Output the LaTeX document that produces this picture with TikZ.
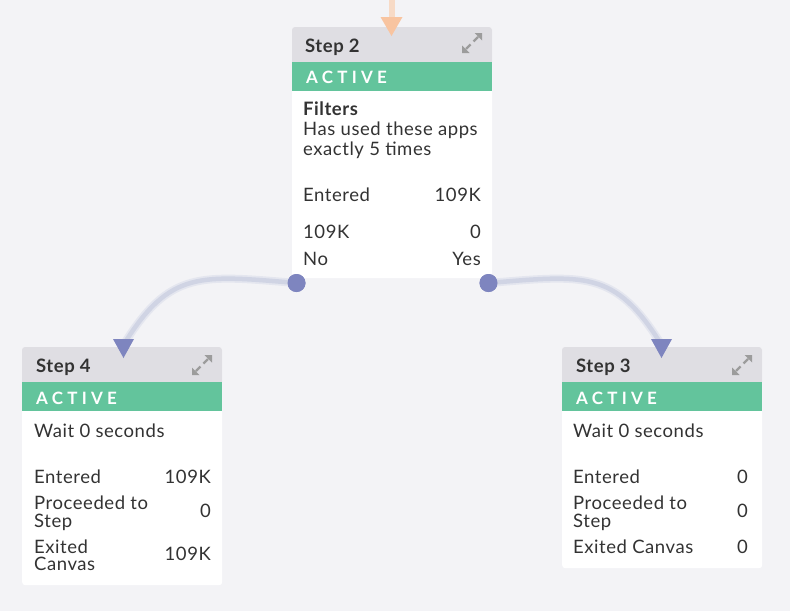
\documentclass[tikz,border=0pt]{standalone}
\usepackage{fontspec}
\setmainfont[LetterSpace=3]{Lato}
\newfontfamily\actfont[LetterSpace=25]{Lato}
\definecolor{bgc}{HTML}{F3F3F6}
\definecolor{hdrc}{HTML}{DFDEE3}
\definecolor{grnc}{HTML}{63C49C}
\definecolor{txtc}{HTML}{333333}
\definecolor{iconc}{HTML}{9C9C9C}
\definecolor{linec}{HTML}{D0D4E4}
\definecolor{haloc}{HTML}{E4E6EF}
\definecolor{dotc}{HTML}{7E85BF}
\definecolor{orline}{HTML}{F7DAC6}
\definecolor{orhead}{HTML}{F8C4A0}
\begin{document}
\begin{tikzpicture}[x=1pt,y=-1pt,
  cardbody/.style={anchor=north west, minimum width=200pt, inner sep=0pt, fill=white, rounded corners=3pt},
  hdr/.style={fill=hdrc},
  grn/.style={fill=grnc},
  ttl/.style={anchor=base west, inner sep=0pt, text=txtc, font=\fontsize{18.5}{20}\selectfont\bfseries},
  act/.style={anchor=base west, inner sep=0pt, text=white, font=\fontsize{17}{20}\selectfont\actfont\bfseries},
  txt/.style={anchor=base west, inner sep=0pt, text=txtc, font=\fontsize{18.5}{20}\selectfont},
  val/.style={anchor=base east, inner sep=0pt, text=txtc, font=\fontsize{18.5}{20}\selectfont},
  dotn/.style={circle, fill=dotc, minimum size=18pt, inner sep=0pt},
  halo/.style={draw=haloc, line width=8pt},
  conn/.style={draw=linec, line width=4.5pt},
  bhead/.style={fill=dotc},
  expandicon/.pic={
    \draw[iconc, line width=2.2pt] (-1.5,1.5) -- (-6,6);
    \draw[iconc, line width=2.2pt] (1.5,-1.5) -- (6,-6);
    \fill[iconc] (-10,10) -- (-2.5,10) -- (-10,2.5) -- cycle;
    \fill[iconc] (10,-10) -- (2.5,-10) -- (10,-2.5) -- cycle;
  }
]
\fill[bgc] (0,0) rectangle (790,611);
\useasboundingbox (0,0) rectangle (790,611);

% ---------- Step 2 ----------
\begin{scope}[shift={(292,27)}]
\node[cardbody, minimum height=251pt] (s2) at (0,0) {};
\fill[hdr] (0,35) {[rounded corners=3pt] -- (0,0) -- (200,0)} -- (200,35) -- cycle;
\fill[grn] (0,35) rectangle (200,64);
\node[ttl] (s2t) at (13,25) {Step 2};
\pic at (180,16) {expandicon};
\node[act] (s2a) at (14,56) {ACTIVE};
\node[txt] (s2f) at (11,88) {\bfseries Filters};
\node[txt] (s2l1) at (11,108) {Has used these apps};
\node[txt] (s2l2) at (11,128) {exactly 5 times};
\node[txt] (s2e) at (11,174) {Entered};
\node[val] (s2ev) at (189,174) {109K};
\node[txt] (s2n) at (11,211) {109K};
\node[val] (s2nv) at (189,211) {0};
\node[txt] (s2no) at (11,238) {No};
\node[val] (s2yes) at (189,238) {Yes};
\end{scope}

% ---------- Step 4 ----------
\begin{scope}[shift={(22,347)}]
\node[cardbody, minimum height=238pt] (s4) at (0,0) {};
\fill[hdr] (0,35) {[rounded corners=3pt] -- (0,0) -- (200,0)} -- (200,35) -- cycle;
\fill[grn] (0,35) rectangle (200,64);
\node[ttl] (s4t) at (14,25) {Step 4};
\pic at (180,18) {expandicon};
\node[act] (s4a) at (14,57) {ACTIVE};
\node[txt] (s4w) at (12,90) {Wait 0 seconds};
\node[txt] (s4e) at (12,136) {Entered};
\node[val] (s4ev) at (189,136) {109K};
\node[txt] (s4p1) at (12,162) {Proceeded to};
\node[txt] (s4p2) at (12,180) {Step};
\node[val] (s4pv) at (189,170) {0};
\node[txt] (s4x1) at (12,206) {Exited};
\node[txt] (s4x2) at (12,223) {Canvas};
\node[val] (s4xv) at (189,213) {109K};
\end{scope}

% ---------- Step 3 ----------
\begin{scope}[shift={(562,347)}]
\node[cardbody, minimum height=221pt] (s3) at (0,0) {};
\fill[hdr] (0,35) {[rounded corners=3pt] -- (0,0) -- (200,0)} -- (200,35) -- cycle;
\fill[grn] (0,35) rectangle (200,64);
\node[ttl] (s3t) at (14,25) {Step 3};
\pic at (180,18) {expandicon};
\node[act] (s3a) at (14,57) {ACTIVE};
\node[txt] (s3w) at (11,90) {Wait 0 seconds};
\node[txt] (s3e) at (11,136) {Entered};
\node[val] (s3ev) at (186,136) {0};
\node[txt] (s3p1) at (11,162) {Proceeded to};
\node[txt] (s3p2) at (11,180) {Step};
\node[val] (s3pv) at (186,170) {0};
\node[txt] (s3x) at (11,206) {Exited Canvas};
\node[val] (s3xv) at (186,206) {0};
\end{scope}

% ---------- incoming arrow ----------
\coordinate (topin) at (391.5,0);
\coordinate (t2) at (391.5,36);
\draw[orline, line width=6pt] (topin) -- (391.5,20);
\fill[orhead] (t2) -- ++(-11,-19) -- ++(22,0) -- cycle;

% ---------- connectors ----------
\node[dotn] (d2l) at (296.5,283) {};
\node[dotn] (d2r) at (488.5,283) {};
\coordinate (a4) at (124,344);
\coordinate (t4) at (123.5,358);
\coordinate (a3) at (661,344);
\coordinate (t3) at (661.5,358);
\draw[halo] (d2l.center) .. controls (200,275) and (170,270) .. (a4);
\draw[conn] (d2l.center) .. controls (200,275) and (170,270) .. (a4);
\draw[halo] (d2r.center) .. controls (585,275) and (615,270) .. (a3);
\draw[conn] (d2r.center) .. controls (585,275) and (615,270) .. (a3);
\fill[bhead] (t4) -- ++(-10.5,-19) -- ++(21,0) -- cycle;
\fill[bhead] (t3) -- ++(-10.5,-19) -- ++(21,0) -- cycle;
\node[dotn] (d2lb) at (d2l) {};
\node[dotn] (d2rb) at (d2r) {};
\end{tikzpicture}
\end{document}
